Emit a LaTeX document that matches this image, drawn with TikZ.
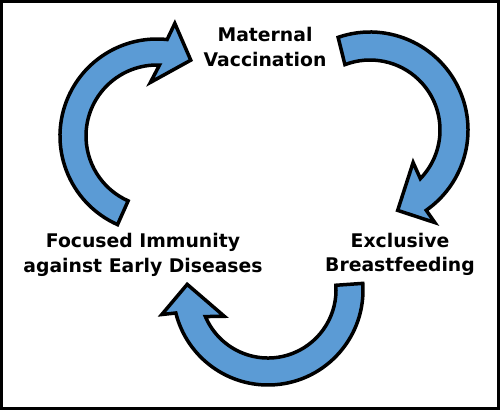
\documentclass[tikz,border=0pt]{standalone}
\usepackage{fontspec}
\setmainfont{DejaVu Sans}
\usetikzlibrary{positioning}
\definecolor{arrowblue}{HTML}{5B9BD5}

\begin{document}
\begin{tikzpicture}[x=1pt,y=1pt,
 cyclearrow/.style={draw=black,fill=arrowblue,line width=3.5pt,line join=miter},
 stagelabel/.style={align=center,inner sep=0pt,font=\fontsize{18.8}{24.5}\selectfont\bfseries}]
\useasboundingbox (0,0) rectangle (500,-410);
\draw[line width=3pt] (1.5,-1.5) rectangle (498.5,-408.5);

% stage labels
\node[stagelabel] (vacc) at (265,-47) {Maternal\\Vaccination};
\node[stagelabel] (breast) at (400,-254.5) {Exclusive\\Breastfeeding};
\node[stagelabel] (immun) at (143,-255) {Focused Immunity\\against Early Diseases};

% arc centres
\coordinate (c1) at (157,-136);
\coordinate (c2) at (370,-130);
\coordinate (c3) at (268,-290);

% immunity -> vaccination
\draw[cyclearrow,shift={(c1)}] (246:97) arc[start angle=246,end angle=84,radius=97]
 -- (81:114) -- (66:83) -- (97:54) -- (88:71) arc[start angle=88,end angle=246,radius=71] -- cycle;
% vaccination -> breastfeeding
\draw[cyclearrow,shift={(c2)}] (109:98) arc[start angle=109,end angle=-55,radius=98]
 -- (-55:113) -- (-71:85) -- (-37:54) -- (-44:70) arc[start angle=-44,end angle=111,radius=70] -- cycle;
% breastfeeding -> immunity
\draw[cyclearrow,shift={(c3)}] (4:95) arc[start angle=4,end angle=-166,radius=95]
 -- (-167:109) -- (-184:81) -- (-149:51) -- (-157:68) arc[start angle=-157,end angle=4,radius=68] -- cycle;
\end{tikzpicture}
\end{document}
